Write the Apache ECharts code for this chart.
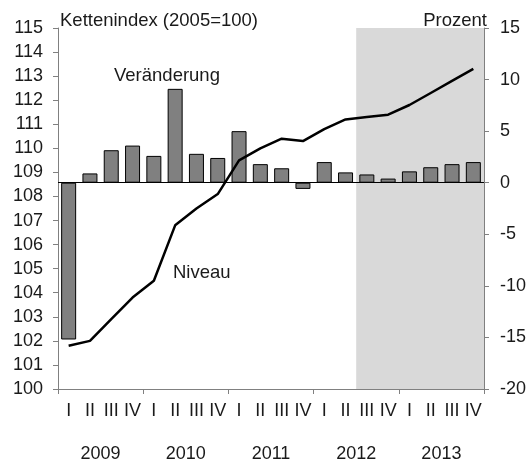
<!DOCTYPE html>
<html>
<head>
<meta charset="utf-8">
<script src="https://cdn.jsdelivr.net/npm/echarts@6/dist/echarts.min.js"></script>
<style>
html,body{margin:0;padding:0;background:#fff;}
#chart{width:529px;height:464px;}
</style>
</head>
<body>
<div id="chart"></div>
<script>
const categories = ['2009-I','2009-II','2009-III','2009-IV','2010-I','2010-II','2010-III','2010-IV','2011-I','2011-II','2011-III','2011-IV','2012-I','2012-II','2012-III','2012-IV','2013-I','2013-II','2013-III','2013-IV'];
const quarterLabels = ['I','II','III','IV','I','II','III','IV','I','II','III','IV','I','II','III','IV','I','II','III','IV'];
const years = ['2009','2010','2011','2012','2013'];
const veraenderung = [-15.2, 0.9, 3.15, 3.6, 2.6, 9.1, 2.8, 2.4, 5.0, 1.8, 1.4, -0.6, 2.0, 1.0, 0.8, 0.4, 1.1, 1.5, 1.8, 2.0];
const niveau = [101.8, 102.0, 102.9, 103.8, 104.5, 106.8, 107.5, 108.1, 109.5, 110.0, 110.4, 110.3, 110.8, 111.2, 111.3, 111.4, 111.8, 112.3, 112.8, 113.3];
const leftTicks = {min: 100, max: 115, interval: 1};
const rightTicks = {min: -20, max: 15, interval: 5};
const shadeStart = '2012-III';

const FONT = "'Liberation Sans', Arial, sans-serif";
const AXIS_COLOR = '#808080';
const TEXT_COLOR = '#1a1a1a';

const chart = echarts.init(document.getElementById('chart'), null, {renderer: 'canvas'});
const shadeFrom = categories.indexOf(shadeStart);

chart.setOption({
  animation: false,
  backgroundColor: '#fff',
  grid: {left: 58, right: 44, top: 28, bottom: 75},
  xAxis: [
    {
      type: 'category', data: categories, position: 'bottom',
      axisLine: {show: false}, axisTick: {show: false},
      axisLabel: {
        margin: 13, fontFamily: FONT, fontSize: 18, color: TEXT_COLOR, interval: 0,
        formatter: (v, i) => quarterLabels[i]
      }
    },
    {
      type: 'category', data: years, position: 'bottom',
      axisLine: {show: true, lineStyle: {color: AXIS_COLOR, width: 1}},
      axisTick: {show: true, length: 5, lineStyle: {color: AXIS_COLOR}},
      axisLabel: {margin: 56, fontFamily: FONT, fontSize: 18, color: TEXT_COLOR}
    },
    {
      type: 'value', min: 0, max: categories.length, show: false
    }
  ],
  yAxis: [
    {
      type: 'value', position: 'left', min: leftTicks.min, max: leftTicks.max, interval: leftTicks.interval,
      axisLine: {show: true, lineStyle: {color: AXIS_COLOR}},
      axisTick: {show: true, length: 5, lineStyle: {color: AXIS_COLOR}},
      splitLine: {show: false},
      axisLabel: {margin: 15, fontFamily: FONT, fontSize: 18, color: TEXT_COLOR}
    },
    {
      type: 'value', position: 'right', min: rightTicks.min, max: rightTicks.max, interval: rightTicks.interval,
      axisLine: {show: true, lineStyle: {color: AXIS_COLOR}},
      axisTick: {show: true, length: 5, lineStyle: {color: AXIS_COLOR}},
      splitLine: {show: false},
      axisLabel: {margin: 16, fontFamily: FONT, fontSize: 18, color: TEXT_COLOR}
    }
  ],
  series: [
    {
      type: 'line', xAxisIndex: 2, yAxisIndex: 0, data: [], z: 0, silent: true,
      markArea: {
        silent: true,
        itemStyle: {color: '#d9d9d9'},
        data: [[{xAxis: shadeFrom}, {xAxis: categories.length}]]
      }
    },
    {
      name: 'Veränderung', type: 'bar', xAxisIndex: 0, yAxisIndex: 1, data: veraenderung, z: 2,
      barWidth: 15,
      itemStyle: {color: '#808080', borderColor: '#000', borderWidth: 1},
      markLine: {
        silent: true, symbol: ['none', 'none'], label: {show: false},
        lineStyle: {color: '#000', width: 1, type: 'solid'},
        data: [{yAxis: 0}]
      }
    },
    {
      name: 'Niveau', type: 'line', xAxisIndex: 0, yAxisIndex: 0, data: niveau, z: 5,
      symbol: 'none', lineStyle: {color: '#000', width: 2.5}
    }
  ],
  graphic: [
    {type: 'text', left: 60, top: 11, style: {text: 'Kettenindex (2005=100)', font: '18.5px ' + FONT, fill: TEXT_COLOR}},
    {type: 'text', right: 42, top: 11, style: {text: 'Prozent', font: '18.5px ' + FONT, fill: TEXT_COLOR, textAlign: 'right'}},
    {type: 'text', left: 114, top: 66, style: {text: 'Veränderung', font: '18.5px ' + FONT, fill: TEXT_COLOR}},
    {type: 'text', left: 173, top: 263, style: {text: 'Niveau', font: '18.5px ' + FONT, fill: TEXT_COLOR}}
  ]
});
</script>
</body>
</html>
